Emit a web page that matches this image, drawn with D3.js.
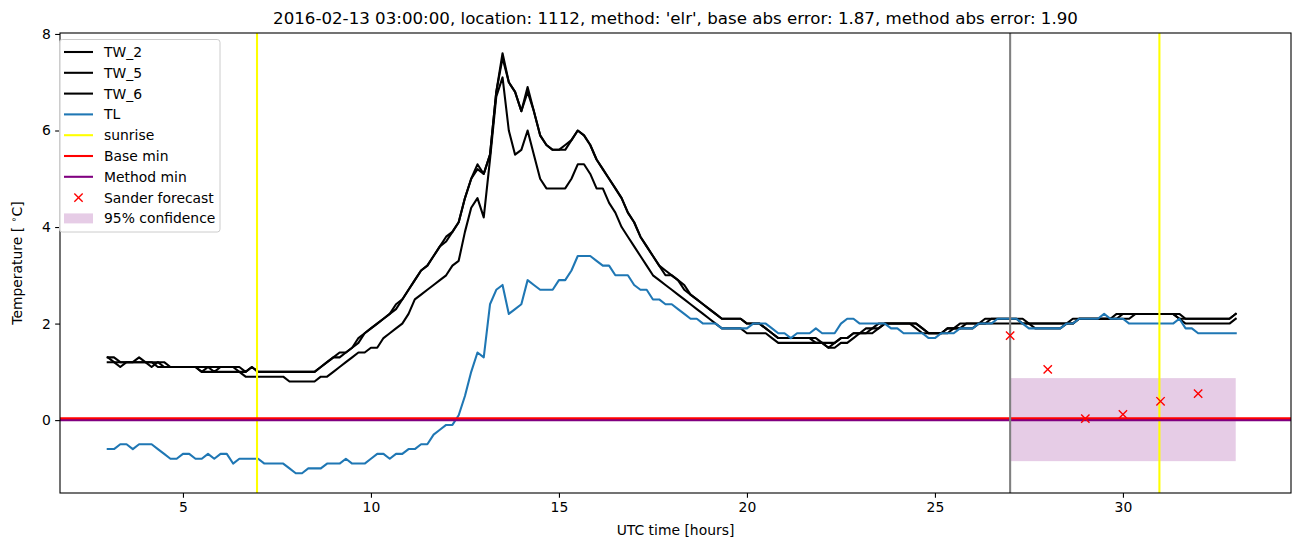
<!DOCTYPE html>
<html><head><meta charset="utf-8">
<script src="https://cdn.jsdelivr.net/npm/d3@7"></script>
<style>body{margin:0;background:#fff}svg{display:block;font-family:"DejaVu Sans",sans-serif}</style>
</head><body><svg id="c" width="1302" height="547"></svg>
<script>
// ---- data (10-minute samples starting at 03:00 UTC) ----
const startHour = 3;
const stepHours = 1/6;
const tw2 = [
1.3,1.3,1.2,1.2,1.2,1.3, 1.2,1.2,1.1,1.1,1.1,1.1, 1.1,1.1,1.1,1.0,1.1,1.1, 1.1,1.1,1.1,1.0,1.0,1.1,
1.0,1.0,1.0,1.0,1.0,1.0, 1.0,1.0,1.0,1.0,1.1,1.2, 1.3,1.4,1.4,1.5,1.7,1.8, 1.9,2.0,2.1,2.2,2.3,2.5,
2.7,2.9,3.1,3.2,3.4,3.6, 3.8,3.9,4.1,4.6,5.0,5.3, 5.1,5.5,6.8,7.6,7.0,6.8, 6.4,6.9,6.4,5.9,5.7,5.6,
5.6,5.6,5.8,6.0,5.9,5.7, 5.4,5.2,5.0,4.8,4.6,4.3, 4.1,3.8,3.6,3.4,3.2,3.0, 3.0,2.9,2.7,2.6,2.5,2.4,
2.3,2.2,2.1,2.1,2.1,2.1, 2.0,2.0,2.0,1.9,1.8,1.7, 1.7,1.7,1.7,1.7,1.7,1.7, 1.6,1.5,1.6,1.7,1.7,1.8,
1.8,1.9,1.9,2.0,2.0,2.0, 2.0,2.0,2.0,1.9,1.8,1.8, 1.8,1.8,1.9,1.9,1.9,2.0, 2.0,2.0,2.0,2.1,2.1,2.1,
2.1,2.1,2.0,2.0,2.0,2.0, 2.0,2.0,2.0,2.0,2.0,2.1, 2.1,2.1,2.1,2.1,2.1,2.1, 2.2,2.2,2.2,2.2,2.2,2.2,
2.2,2.2,2.2,2.1,2.1,2.1, 2.1,2.1,2.1,2.1,2.1,2.1, 2.2];
const tw5 = [
1.3,1.2,1.1,1.2,1.2,1.2, 1.2,1.1,1.2,1.1,1.1,1.1, 1.1,1.1,1.1,1.1,1.1,1.0, 1.1,1.1,1.1,1.1,1.0,1.1,
1.0,1.0,1.0,1.0,1.0,1.0, 1.0,1.0,1.0,1.0,1.1,1.2, 1.3,1.3,1.4,1.5,1.6,1.8, 1.9,2.0,2.1,2.2,2.4,2.5,
2.7,2.9,3.1,3.2,3.4,3.6, 3.7,3.9,4.1,4.6,5.0,5.2, 5.1,5.5,6.8,7.5,7.0,6.8, 6.4,6.8,6.4,5.9,5.7,5.6,
5.6,5.7,5.8,6.0,5.9,5.7, 5.4,5.2,5.0,4.8,4.6,4.3, 4.1,3.8,3.6,3.4,3.2,3.1, 3.0,2.9,2.8,2.6,2.5,2.4,
2.3,2.2,2.1,2.1,2.1,2.1, 2.0,2.0,2.0,1.9,1.8,1.7, 1.7,1.7,1.7,1.7,1.7,1.6, 1.6,1.6,1.6,1.7,1.7,1.8,
1.8,1.8,1.9,1.9,2.0,2.0, 2.0,2.0,2.0,2.0,1.9,1.8, 1.8,1.8,1.9,1.9,2.0,2.0, 2.0,2.0,2.1,2.1,2.1,2.1,
2.1,2.1,2.1,2.0,2.0,2.0, 2.0,2.0,2.0,2.0,2.1,2.1, 2.1,2.1,2.1,2.1,2.1,2.2, 2.2,2.2,2.2,2.2,2.2,2.2,
2.2,2.2,2.2,2.2,2.1,2.1, 2.1,2.1,2.1,2.1,2.1,2.1, 2.2];
const tw6 = [
1.2,1.2,1.2,1.2,1.2,1.2, 1.2,1.2,1.2,1.2,1.1,1.1, 1.1,1.1,1.1,1.0,1.0,1.0, 1.0,1.0,1.0,1.0,0.9,0.9,
0.9,0.9,0.9,0.9,0.9,0.8, 0.8,0.8,0.8,0.8,0.9,0.9, 1.0,1.1,1.2,1.3,1.4,1.4, 1.5,1.5,1.7,1.8,1.9,2.0,
2.2,2.5,2.6,2.7,2.8,2.9, 3.0,3.2,3.3,3.9,4.4,4.6, 4.2,5.4,6.7,7.1,6.0,5.5, 5.6,6.0,5.5,5.0,4.8,4.8,
4.8,4.8,5.0,5.3,5.3,5.1, 4.8,4.8,4.5,4.3,4.0,3.8, 3.6,3.4,3.2,3.0,2.9,2.8, 2.7,2.6,2.5,2.4,2.3,2.2,
2.1,2.0,1.9,1.9,1.9,1.9, 1.8,1.8,1.8,1.8,1.7,1.6, 1.6,1.6,1.6,1.6,1.6,1.6, 1.6,1.5,1.5,1.6,1.6,1.7,
1.8,1.8,1.8,1.9,2.0,2.0, 2.0,2.0,2.0,2.0,1.9,1.8, 1.8,1.8,1.8,1.9,1.9,1.9, 1.9,2.0,2.0,2.0,2.0,2.0,
2.0,2.0,2.0,2.0,1.9,1.9, 1.9,1.9,1.9,2.0,2.0,2.1, 2.1,2.1,2.1,2.1,2.1,2.1, 2.1,2.1,2.2,2.2,2.2,2.2,
2.2,2.2,2.2,2.1,2.0,2.0, 2.0,2.0,2.0,2.0,2.0,2.0, 2.1];
const tl = [
-0.6,-0.6,-0.5,-0.5,-0.6,-0.5, -0.5,-0.5,-0.6,-0.7,-0.8,-0.8, -0.7,-0.7,-0.8,-0.8,-0.7,-0.8, -0.7,-0.7,-0.9,-0.8,-0.8,-0.8,
-0.8,-0.9,-0.9,-0.9,-0.9,-1.0, -1.1,-1.1,-1.0,-1.0,-1.0,-0.9, -0.9,-0.9,-0.8,-0.9,-0.9,-0.9, -0.8,-0.7,-0.7,-0.8,-0.7,-0.7,
-0.6,-0.6,-0.5,-0.5,-0.3,-0.2, -0.1,-0.1,0.1,0.5,1.0,1.4, 1.3,2.4,2.7,2.8,2.2,2.3, 2.4,2.9,2.8,2.7,2.7,2.7,
2.9,2.9,3.1,3.4,3.4,3.4, 3.3,3.2,3.2,3.0,3.0,3.0, 2.8,2.7,2.7,2.5,2.5,2.4, 2.4,2.3,2.2,2.1,2.1,2.0,
2.0,2.0,1.9,1.9,1.9,1.9, 1.9,2.0,2.0,2.0,1.9,1.8, 1.8,1.7,1.8,1.8,1.8,1.9, 1.8,1.8,1.8,2.0,2.1,2.1,
2.0,2.0,2.0,2.0,2.0,1.9, 1.9,1.8,1.8,1.8,1.8,1.7, 1.7,1.8,1.8,1.8,1.9,1.9, 1.9,2.0,2.0,2.0,2.1,2.1,
2.1,2.1,2.0,1.9,1.9,1.9, 1.9,1.9,1.9,2.0,2.0,2.1, 2.1,2.1,2.1,2.2,2.1,2.1, 2.1,2.0,2.0,2.0,2.0,2.0,
2.0,2.0,2.0,2.1,1.9,1.9, 1.8,1.8,1.8,1.8,1.8,1.8, 1.8];
const sunriseHours = [6.97, 30.97];
const forecastStartHour = 27;
const baseMin = 0.04;
const methodMin = 0.0;
const sanderHours = [27, 28, 29, 30, 31, 32];
const sanderValues = [1.75, 1.05, 0.03, 0.12, 0.39, 0.55];
const confHours = [27, 33];
const confLow = -0.85, confHigh = 0.87;
const xTicks = [5, 10, 15, 20, 25, 30];
const yTicks = [0, 2, 4, 6, 8];
const titleText = "2016-02-13 03:00:00, location: 1112, method: 'elr', base abs error: 1.87, method abs error: 1.90";

// ---- layout ----
const L = 60, R = 1291, T = 33, B = 493;
const svg = d3.select("#c");
const x = d3.scaleLinear().domain([1.73, 34.47]).range([L, R]);
const y = d3.scaleLinear().domain([-1.51, 8.02]).range([B, T]);
const clip = svg.append("clipPath").attr("id", "clip").append("rect")
  .attr("x", L).attr("y", T).attr("width", R - L).attr("height", B - T);
const g = svg.append("g").attr("clip-path", "url(#clip)");

// confidence band
g.append("rect").attr("x", x(confHours[0])).attr("width", x(confHours[1]) - x(confHours[0]))
  .attr("y", y(confHigh)).attr("height", y(confLow) - y(confHigh))
  .attr("fill", "purple").attr("fill-opacity", 0.2);

const lineGen = d3.line().x((d, i) => x(startHour + i * stepHours)).y(d => y(d));
[[tw2, "black"], [tw5, "black"], [tw6, "black"], [tl, "#1f77b4"]].forEach(([s, c]) => {
  g.append("path").attr("d", lineGen(s)).attr("fill", "none").attr("stroke", c)
    .attr("stroke-width", 2.08).attr("stroke-linejoin", "round").attr("stroke-linecap", "square");
});
sunriseHours.forEach(h => g.append("line").attr("x1", x(h)).attr("x2", x(h)).attr("y1", T).attr("y2", B)
  .attr("stroke", "yellow").attr("stroke-width", 2.08));
g.append("line").attr("x1", L).attr("x2", R).attr("y1", y(methodMin)).attr("y2", y(methodMin))
  .attr("stroke", "purple").attr("stroke-width", 2.08);
g.append("line").attr("x1", L).attr("x2", R).attr("y1", y(baseMin)).attr("y2", y(baseMin))
  .attr("stroke", "red").attr("stroke-width", 2.08);
g.append("line").attr("x1", x(forecastStartHour)).attr("x2", x(forecastStartHour)).attr("y1", T).attr("y2", B)
  .attr("stroke", "grey").attr("stroke-width", 2.08);

function cross(sel, cx, cy) {
  const r = 4.17;
  sel.append("path").attr("d", `M${cx - r},${cy - r}L${cx + r},${cy + r}M${cx - r},${cy + r}L${cx + r},${cy - r}`)
    .attr("stroke", "red").attr("stroke-width", 1.39).attr("fill", "none");
}
sanderHours.forEach((h, i) => cross(g, x(h), y(sanderValues[i])));

// axes frame
svg.append("rect").attr("x", L).attr("y", T).attr("width", R - L).attr("height", B - T)
  .attr("fill", "none").attr("stroke", "black").attr("stroke-width", 1.1);

const xAxis = d3.axisBottom(x).tickValues(xTicks).tickSize(4.86).tickPadding(4.2).tickFormat(d3.format("d"));
const ya = d3.axisLeft(y).tickValues(yTicks).tickSize(4.86).tickPadding(4.2).tickFormat(d3.format("d"));
const gx = svg.append("g").attr("transform", `translate(0,${B})`).call(xAxis);
const gy = svg.append("g").attr("transform", `translate(${L},0)`).call(ya);
[gx, gy].forEach(a => {
  a.select(".domain").remove();
  a.selectAll("line").attr("stroke", "black").attr("stroke-width", 1.1);
  a.selectAll("text").attr("font-size", 13.9).attr("fill", "black").attr("font-family", "DejaVu Sans");
});

svg.append("text").attr("x", (L + R) / 2).attr("y", 535).attr("text-anchor", "middle")
  .attr("font-size", 13.9).text("UTC time [hours]");
const yl = svg.append("text").attr("transform", `translate(22,${(T + B) / 2}) rotate(-90)`)
  .attr("text-anchor", "middle").attr("font-size", 13.9);
yl.append("tspan").text("Temperature [ ");
yl.append("tspan").attr("font-size", 9.7).attr("dy", -5).text("∘");
yl.append("tspan").attr("dy", 5).text("C]");

svg.append("text").attr("x", (L + R) / 2).attr("y", 24).attr("text-anchor", "middle")
  .attr("font-size", 16.67).text(titleText);

// legend
const legendItems = [
  {label: "TW_2", type: "line", color: "black"},
  {label: "TW_5", type: "line", color: "black"},
  {label: "TW_6", type: "line", color: "black"},
  {label: "TL", type: "line", color: "#1f77b4"},
  {label: "sunrise", type: "line", color: "yellow"},
  {label: "Base min", type: "line", color: "red"},
  {label: "Method min", type: "line", color: "purple"},
  {label: "Sander forecast", type: "marker", color: "red"},
  {label: "95% confidence", type: "patch", color: "purple"}
];
const lg = svg.append("g");
lg.append("rect").attr("x", 59.5).attr("y", 39.5).attr("width", 160.5).attr("height", 192.5)
  .attr("rx", 2.8).attr("fill", "white").attr("fill-opacity", 0.8).attr("stroke", "#cccccc").attr("stroke-width", 1);
legendItems.forEach((d, i) => {
  const cy = 52 + i * 20.8;
  if (d.type === "line") {
    lg.append("line").attr("x1", 64).attr("x2", 93).attr("y1", cy).attr("y2", cy)
      .attr("stroke", d.color).attr("stroke-width", 2.08);
  } else if (d.type === "marker") {
    cross(lg, 78.5, cy);
  } else {
    lg.append("rect").attr("x", 64).attr("y", cy - 5).attr("width", 29).attr("height", 10)
      .attr("fill", d.color).attr("fill-opacity", 0.2);
  }
  lg.append("text").attr("x", 104).attr("y", cy + 5).attr("font-size", 13.9).text(d.label);
});
</script></body></html>
